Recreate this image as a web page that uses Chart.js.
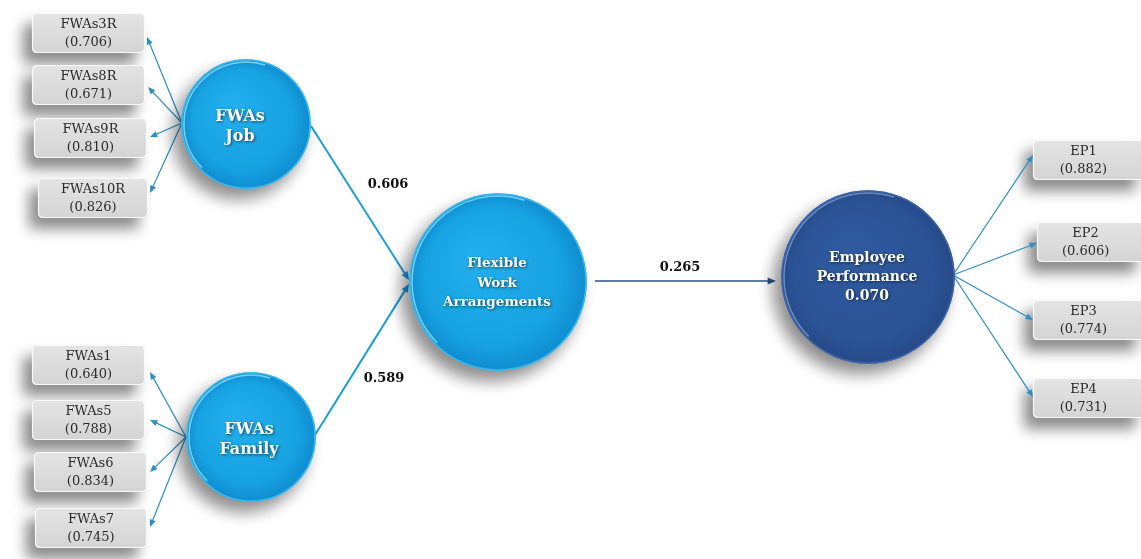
<!DOCTYPE html>
<html>
<head>
<meta charset="utf-8">
<script src="https://cdn.jsdelivr.net/npm/chart.js@4.4.1/dist/chart.umd.min.js"></script>
<style>
  html, body { margin: 0; padding: 0; background: #ffffff; }
  #wrap { width: 1141px; height: 559px; }
</style>
</head>
<body>
<div id="wrap"><canvas id="c" width="1141" height="559"></canvas></div>
<script>
// ---------- DATA ----------
const jobItems = ['FWAs3R', 'FWAs8R', 'FWAs9R', 'FWAs10R'];
const jobLoadings = [0.706, 0.671, 0.810, 0.826];
const familyItems = ['FWAs1', 'FWAs5', 'FWAs6', 'FWAs7'];
const familyLoadings = [0.640, 0.788, 0.834, 0.745];
const epItems = ['EP1', 'EP2', 'EP3', 'EP4'];
const epLoadings = [0.882, 0.606, 0.774, 0.731];
const constructNames = [['FWAs', 'Job'], ['FWAs', 'Family'], ['Flexible', 'Work', 'Arrangements'], ['Employee', 'Performance']];
const pathCoefficients = [0.606, 0.589, 0.265]; // Job->FWA, Family->FWA, FWA->EP
const epRSquare = 0.070;

// ---------- LAYOUT (diagram coordinates, in scale units) ----------
const constructLayout = [
  { x: 246, y: 124, r: 64, dark: false, tx: 240, ty: [117, 137], fs: 16 },
  { x: 251, y: 437, r: 64, dark: false, tx: 249, ty: [430, 450], fs: 16 },
  { x: 498, y: 282, r: 88, dark: false, tx: 497, ty: [263, 283, 302], fs: 13.5 },
  { x: 868, y: 277, r: 86, dark: true,  tx: 867, ty: [258, 277, 296], fs: 14 }
];
const jobBoxes    = [{x:32,y:13,w:113},{x:32,y:65,w:113},{x:34,y:118,w:113},{x:38,y:178,w:110}];
const familyBoxes = [{x:32,y:345,w:113},{x:32,y:400,w:113},{x:34,y:452,w:113},{x:35,y:508,w:112}];
const epBoxes     = [{x:1033,y:140,w:112},{x:1037,y:222,w:108},{x:1033,y:300,w:112},{x:1033,y:378,w:112}];
const boxH = 40;
const jobOrigin = { x: 182, y: 123 }, jobTips = [{x:147,y:37},{x:148,y:87},{x:150,y:137},{x:150,y:193}];
const famOrigin = { x: 186, y: 437 }, famTips = [{x:150,y:372},{x:150,y:420},{x:150,y:472},{x:150,y:527}];
const epOrigin  = { x: 953, y: 275 }, epTips  = [{x:1033,y:155},{x:1037,y:243},{x:1033,y:320},{x:1033,y:397}];
const structPaths = [
  { from: {x:311,y:126}, to: {x:409,y:280}, lx: 388, ly: 185, color: '#1a9fdc', w: 2 },
  { from: {x:315,y:435}, to: {x:409,y:284}, lx: 384, ly: 379, color: '#1a9fdc', w: 2 },
  { from: {x:595,y:281}, to: {x:776,y:281}, lx: 680, ly: 268, color: '#2b4f8e', w: 1.6 }
];

// ---------- HELPERS ----------
function px(chart, p) {
  return { x: chart.scales.x.getPixelForValue(p.x), y: chart.scales.y.getPixelForValue(p.y) };
}
function roundRect(ctx, x, y, w, h, r) {
  ctx.beginPath();
  ctx.moveTo(x + r, y);
  ctx.lineTo(x + w - r, y);
  ctx.quadraticCurveTo(x + w, y, x + w, y + r);
  ctx.lineTo(x + w, y + h - r);
  ctx.quadraticCurveTo(x + w, y + h, x + w - r, y + h);
  ctx.lineTo(x + r, y + h);
  ctx.quadraticCurveTo(x, y + h, x, y + h - r);
  ctx.lineTo(x, y + r);
  ctx.quadraticCurveTo(x, y, x + r, y);
  ctx.closePath();
}
function arrow(ctx, a, b, color, w, head) {
  const ang = Math.atan2(b.y - a.y, b.x - a.x);
  ctx.save();
  ctx.strokeStyle = color; ctx.fillStyle = color; ctx.lineWidth = w;
  ctx.beginPath();
  ctx.moveTo(a.x, a.y);
  ctx.lineTo(b.x - Math.cos(ang) * head * 0.7, b.y - Math.sin(ang) * head * 0.7);
  ctx.stroke();
  ctx.beginPath();
  ctx.moveTo(b.x, b.y);
  ctx.lineTo(b.x - head * Math.cos(ang - 0.4), b.y - head * Math.sin(ang - 0.4));
  ctx.lineTo(b.x - head * Math.cos(ang + 0.4), b.y - head * Math.sin(ang + 0.4));
  ctx.closePath();
  ctx.fill();
  ctx.restore();
}

const diagramPlugin = {
  id: 'diagram',
  beforeDatasetsDraw(chart) {
    const ctx = chart.ctx;
    // boxes
    const groups = [
      [jobBoxes, jobItems, jobLoadings, 0.5],
      [familyBoxes, familyItems, familyLoadings, 0.5],
      [epBoxes, epItems, epLoadings, 0.45]
    ];
    groups.forEach(([boxes, names, vals, tf]) => {
      boxes.forEach((b, i) => {
        const p = px(chart, { x: b.x, y: b.y });
        const p2 = px(chart, { x: b.x + b.w, y: b.y + boxH });
        const w = p2.x - p.x, h = p2.y - p.y;
        ctx.save();
        ctx.shadowColor = 'rgba(0,0,0,0.45)';
        ctx.shadowBlur = 14;
        ctx.shadowOffsetX = -9;
        ctx.shadowOffsetY = 11;
        roundRect(ctx, p.x, p.y, w, h, 5);
        const g = ctx.createLinearGradient(0, p.y, 0, p.y + h);
        g.addColorStop(0, '#e4e4e4');
        g.addColorStop(1, '#d4d4d4');
        ctx.fillStyle = g;
        ctx.fill();
        ctx.restore();
        ctx.save();
        roundRect(ctx, p.x + 0.5, p.y + 0.5, w - 1, h - 1, 5);
        ctx.strokeStyle = 'rgba(255,255,255,0.85)';
        ctx.lineWidth = 1.2;
        ctx.stroke();
        ctx.fillStyle = '#2a2a2a';
        ctx.font = '13px "DejaVu Serif"';
        ctx.textAlign = 'center';
        ctx.textBaseline = 'middle';
        const cx = p.x + w * tf;
        ctx.fillText(names[i], cx, p.y + 12);
        ctx.fillText('(' + vals[i].toFixed(3) + ')', cx, p.y + 30);
        ctx.restore();
      });
    });
    // indicator arrows
    const arrowSets = [[jobOrigin, jobTips], [famOrigin, famTips], [epOrigin, epTips]];
    arrowSets.forEach(([o, tips]) => {
      tips.forEach(t => arrow(ctx, px(chart, o), px(chart, t), '#2b8fc6', 1.2, 8));
    });
    // structural paths
    structPaths.forEach((s, i) => {
      arrow(ctx, px(chart, s.from), px(chart, s.to), s.color, s.w, 9);
      const l = px(chart, { x: s.lx, y: s.ly });
      ctx.save();
      ctx.fillStyle = '#111';
      ctx.font = 'bold 13px "DejaVu Serif"';
      ctx.textAlign = 'center';
      ctx.textBaseline = 'middle';
      ctx.fillText(pathCoefficients[i].toFixed(3), l.x, l.y);
      ctx.restore();
    });
  },
  beforeDatasetDraw(chart) {
    const ctx = chart.ctx;
    ctx.save();
    ctx.shadowColor = 'rgba(0,0,0,0.45)';
    ctx.shadowBlur = 16;
    ctx.shadowOffsetX = -8;
    ctx.shadowOffsetY = 10;
  },
  afterDatasetDraw(chart, args) {
    const ctx = chart.ctx;
    ctx.restore();
    // gradient overlay on each bubble element drawn by the library
    const meta = chart.getDatasetMeta(args.index);
    meta.data.forEach((el, i) => {
      const c = constructLayout[i];
      const r = el.options.radius;
      const x = el.x, y = el.y;
      if (!isFinite(x) || !isFinite(y) || !isFinite(r)) return;
      const g = ctx.createRadialGradient(x - r * 0.25, y - r * 0.3, r * 0.1, x, y, r);
      if (c.dark) {
        g.addColorStop(0, '#2f5a9f');
        g.addColorStop(0.8, '#2b5395');
        g.addColorStop(1, '#264a89');
      } else {
        g.addColorStop(0, '#22aeec');
        g.addColorStop(0.75, '#17a2e2');
        g.addColorStop(1, '#0f8ed0');
      }
      ctx.save();
      ctx.beginPath();
      ctx.arc(x, y, r, 0, Math.PI * 2);
      ctx.fillStyle = g;
      ctx.fill();
      ctx.strokeStyle = c.dark ? '#3e64a8' : '#38b6ee';
      ctx.lineWidth = 1.5;
      ctx.stroke();
      ctx.beginPath();
      ctx.arc(x, y, r - 2, Math.PI * 0.75, Math.PI * 1.6);
      ctx.strokeStyle = c.dark ? 'rgba(150,180,230,0.6)' : 'rgba(140,225,255,0.8)';
      ctx.lineWidth = 1.5;
      ctx.stroke();
      ctx.restore();
    });
  },
  afterDatasetsDraw(chart) {
    const ctx = chart.ctx;
    constructLayout.forEach((c, i) => {
      const lines = constructNames[i].slice();
      if (i === 3) lines.push(epRSquare.toFixed(3));
      ctx.save();
      ctx.font = 'bold ' + c.fs + 'px "DejaVu Serif"';
      ctx.textAlign = 'center';
      ctx.textBaseline = 'middle';
      ctx.fillStyle = '#ffffff';
      ctx.shadowColor = 'rgba(0,0,0,0.6)';
      ctx.shadowBlur = 3;
      ctx.shadowOffsetX = 1;
      ctx.shadowOffsetY = 1;
      lines.forEach((t, k) => {
        const p = px(chart, { x: c.tx, y: c.ty[k] });
        ctx.fillText(t, p.x, p.y);
      });
      ctx.restore();
    });
  }
};

new Chart(document.getElementById('c'), {
  type: 'bubble',
  data: {
    datasets: [{
      data: constructLayout.map(c => ({ x: c.x, y: c.y, r: c.r })),
      backgroundColor: constructLayout.map(c => c.dark ? '#2b5395' : '#17a2e2'),
      borderColor: constructLayout.map(c => c.dark ? '#3e64a8' : '#38b6ee'),
      borderWidth: 1.5,
      hoverRadius: 0,
      clip: false
    }]
  },
  options: {
    responsive: false,
    animation: false,
    events: [],
    layout: { padding: 0, autoPadding: false },
    plugins: { legend: { display: false }, tooltip: { enabled: false } },
    scales: {
      x: { type: 'linear', min: 0, max: 1141, display: false },
      y: { type: 'linear', min: 0, max: 559, reverse: true, display: false }
    }
  },
  plugins: [diagramPlugin]
});
</script>
</body>
</html>
